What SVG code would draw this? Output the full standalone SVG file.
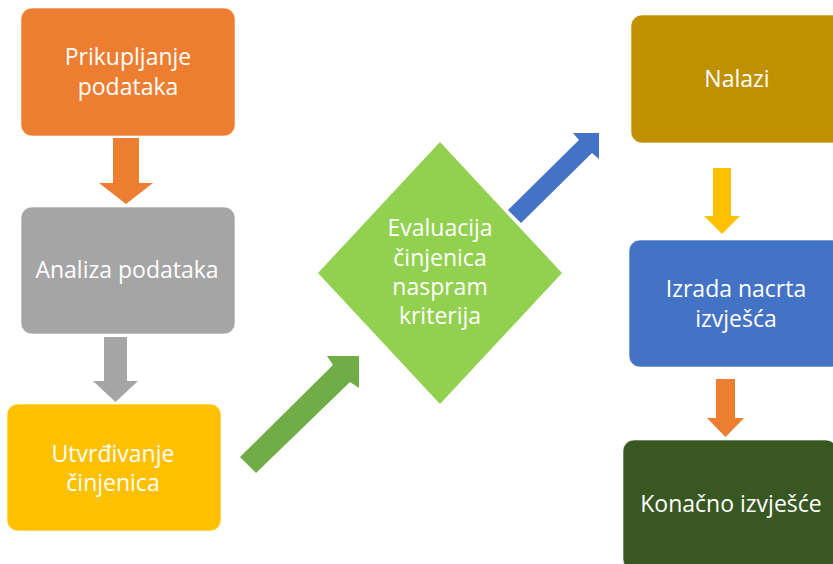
<svg xmlns="http://www.w3.org/2000/svg" width="833" height="564" viewBox="0 0 833 564">
<style>
.box{stroke:#ffffff;stroke-width:1;stroke-opacity:0.6}
.t{font-family:"Open Sans","Noto Sans","DejaVu Sans",sans-serif;font-size:23px;fill:#ffffff;text-anchor:middle}
</style>
<rect width="833" height="564" fill="#ffffff"/>
<g id="connectors">
<polygon points="113,138 139,138 139,183 153,183 126,204 99,183 113,183" fill="#ED7D31"/>
<polygon points="104,337 127,337 127,381 138,381 115.5,402 93,381 104,381" fill="#A5A5A5"/>
<polygon points="240,457 333,365 327,356 359,356 359,388 350,382 256,473" fill="#70AD47"/>
<polygon points="508,210 579,140 573,133 599,133 599,159 592,153 521,223" fill="#4472C4"/>
<polygon points="713,168 731,168 731,216 740,216 722,234 704,216 713,216" fill="#FFC000"/>
<polygon points="716,379 735,379 735,418 744,418 725.5,437 707,418 716,418" fill="#ED7D31"/>
</g>
<g id="n1"><rect class="box" x="21" y="8" width="214" height="128" rx="11" fill="#ED7D31"/>
<text class="t" x="128" y="65">Prikupljanje</text><text class="t" x="128" y="95">podataka</text></g>
<g id="n2"><rect class="box" x="21" y="207" width="214" height="127" rx="11" fill="#A5A5A5"/>
<text class="t" x="127" y="278">Analiza podataka</text></g>
<g id="n3"><rect class="box" x="7" y="404" width="214" height="127" rx="11" fill="#FFC000"/>
<text class="t" x="113" y="462">Utvrđivanje</text><text class="t" x="113" y="491">činjenica</text></g>
<g id="n4"><polygon points="440,142 562,273 440,404 318,273" fill="#92D050"/>
<text class="t" x="440" y="236">Evaluacija</text><text class="t" x="440" y="266">činjenica</text><text class="t" x="440" y="295">naspram</text><text class="t" x="440" y="324">kriterija</text></g>
<g id="n5"><rect class="box" x="631" y="15" width="214" height="128" rx="11" fill="#BF9000"/>
<text class="t" x="737" y="87">Nalazi</text></g>
<g id="n6"><rect class="box" x="629" y="240" width="214" height="127" rx="11" fill="#4472C4"/>
<text class="t" x="736" y="297">Izrada nacrta</text><text class="t" x="736" y="327">izvješća</text></g>
<g id="n7"><rect class="box" x="623" y="440" width="214" height="130" rx="11" fill="#385723"/>
<text class="t" x="731" y="512">Konačno izvješće</text></g>
</svg>
